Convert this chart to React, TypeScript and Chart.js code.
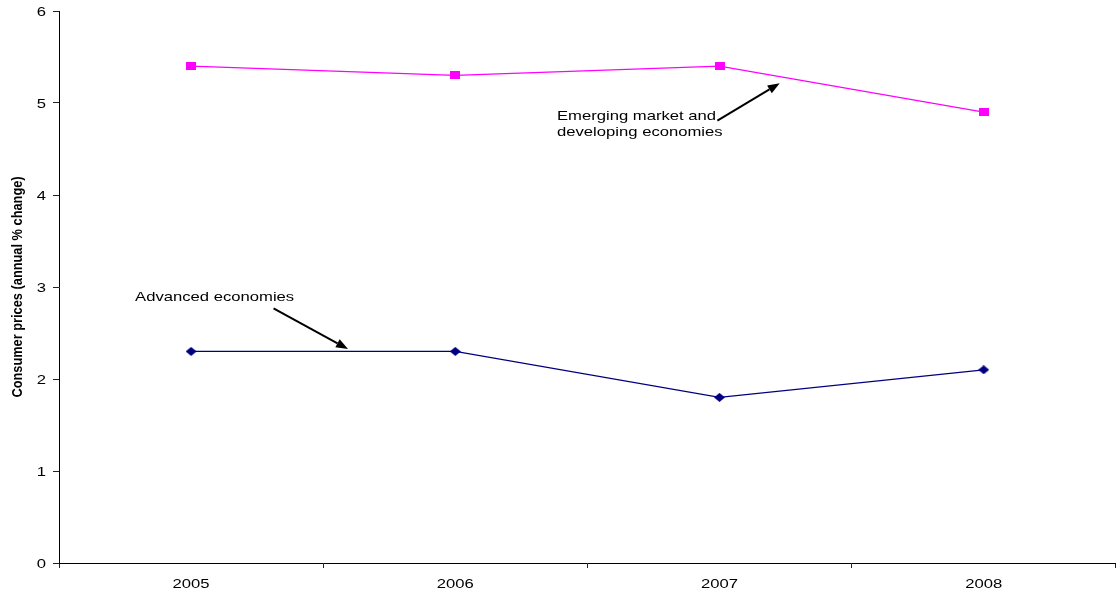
import React, { useEffect, useRef } from "react";
import { Chart, registerables } from "chart.js";

Chart.register(...registerables);

const years = ["2005", "2006", "2007", "2008"];
const emergingValues = [5.4, 5.3, 5.4, 4.9];
const advancedValues = [2.3, 2.3, 1.8, 2.1];
const yTicks = [0, 1, 2, 3, 4, 5, 6];
const yTitle = "Consumer prices (annual % change)";

// Callout labels: text baseline anchored at (category index, value), arrows from -> to
const emergingLabel = ["Emerging market and", "developing economies"];
const advancedLabel = ["Advanced economies"];
const emergingTextAt = [1.385, 4.81];
const emergingArrow = [[1.992, 4.808], [2.228, 5.214]];
const advancedTextAt = [-0.212, 2.848];
const advancedArrow = [[0.312, 2.768], [0.594, 2.326]];

const FONT = "'Liberation Sans', Arial, sans-serif";
const STRETCH = 1.28; // glyphs are drawn wider than they are tall

function stretchedText(
  ctx: CanvasRenderingContext2D,
  text: string,
  x: number,
  y: number,
  align: CanvasTextAlign,
  font: string
) {
  ctx.save();
  ctx.font = font;
  ctx.fillStyle = "#000";
  ctx.textAlign = align;
  ctx.textBaseline = "alphabetic";
  ctx.translate(x, y);
  ctx.scale(STRETCH, 1);
  ctx.fillText(text, 0, 0);
  ctx.restore();
}

function drawArrow(ctx: CanvasRenderingContext2D, x1: number, y1: number, x2: number, y2: number) {
  const ang = Math.atan2(y2 - y1, x2 - x1);
  const head = 12;
  const half = 4.5;
  const bx = x2 - head * Math.cos(ang);
  const by = y2 - head * Math.sin(ang);
  ctx.save();
  ctx.strokeStyle = "#000";
  ctx.fillStyle = "#000";
  ctx.lineWidth = 2;
  ctx.beginPath();
  ctx.moveTo(x1, y1);
  ctx.lineTo(bx, by);
  ctx.stroke();
  ctx.beginPath();
  ctx.moveTo(x2, y2);
  ctx.lineTo(bx + half * Math.sin(ang), by - half * Math.cos(ang));
  ctx.lineTo(bx - half * Math.sin(ang), by + half * Math.cos(ang));
  ctx.closePath();
  ctx.fill();
  ctx.restore();
}

function squareMarker(color: string) {
  const c = document.createElement("canvas");
  c.width = 10;
  c.height = 8;
  const g = c.getContext("2d")!;
  g.fillStyle = color;
  g.fillRect(0, 0, 10, 8);
  return c;
}

function diamondMarker(color: string) {
  const c = document.createElement("canvas");
  c.width = 11;
  c.height = 9;
  const g = c.getContext("2d")!;
  g.fillStyle = color;
  g.beginPath();
  g.moveTo(5.5, 0);
  g.lineTo(11, 4.5);
  g.lineTo(5.5, 9);
  g.lineTo(0, 4.5);
  g.closePath();
  g.fill();
  return c;
}

const textPlugin = {
  id: "axisTextAndCallouts",
  afterDraw(chart: any) {
    const { ctx, scales, chartArea } = chart;
    const xs = scales.x;
    const ys = scales.y;
    const px = (v: number) => xs.getPixelForValue(v);
    const py = (v: number) => ys.getPixelForValue(v);
    const font = `13px ${FONT}`;

    // y tick labels
    yTicks.forEach((v) => {
      stretchedText(ctx, String(v), chartArea.left - 13, py(v) + 5, "right", font);
    });
    // x tick labels
    years.forEach((label, i) => {
      stretchedText(ctx, label, px(i), chartArea.bottom + 25, "center", font);
    });

    // rotated y axis title
    ctx.save();
    ctx.font = `bold 12.8px ${FONT}`;
    ctx.fillStyle = "#000";
    ctx.textAlign = "center";
    ctx.textBaseline = "middle";
    ctx.translate(18, (chartArea.top + chartArea.bottom) / 2);
    ctx.rotate(-Math.PI / 2);
    ctx.scale(1, 1.12);
    ctx.fillText(yTitle, 0, 0);
    ctx.restore();

    // callouts
    emergingLabel.forEach((line, i) => {
      stretchedText(ctx, line, px(emergingTextAt[0]), py(emergingTextAt[1]) + i * 16, "left", font);
    });
    advancedLabel.forEach((line, i) => {
      stretchedText(ctx, line, px(advancedTextAt[0]), py(advancedTextAt[1]) + i * 16, "left", font);
    });
    drawArrow(ctx, px(emergingArrow[0][0]), py(emergingArrow[0][1]), px(emergingArrow[1][0]), py(emergingArrow[1][1]));
    drawArrow(ctx, px(advancedArrow[0][0]), py(advancedArrow[0][1]), px(advancedArrow[1][0]), py(advancedArrow[1][1]));
  },
};

export default function App() {
  const canvasRef = useRef<HTMLCanvasElement | null>(null);

  useEffect(() => {
    if (!canvasRef.current) return;
    const chart = new Chart(canvasRef.current, {
      type: "line",
      data: {
        labels: years,
        datasets: [
          {
            label: "Emerging market and developing economies",
            data: emergingValues,
            borderColor: "#FF00FF",
            backgroundColor: "#FF00FF",
            borderWidth: 1.2,
            pointStyle: squareMarker("#FF00FF") as any,
            tension: 0,
          },
          {
            label: "Advanced economies",
            data: advancedValues,
            borderColor: "#000080",
            backgroundColor: "#000080",
            borderWidth: 1.2,
            pointStyle: diamondMarker("#000080") as any,
            tension: 0,
          },
        ],
      },
      options: {
        animation: false,
        responsive: false,
        maintainAspectRatio: false,
        layout: { padding: { top: 11, right: 0, left: 0, bottom: 0 } },
        plugins: {
          legend: { display: false },
          tooltip: { enabled: false },
        },
        scales: {
          x: {
            type: "category",
            offset: true,
            grid: {
              offset: true,
              drawOnChartArea: false,
              drawTicks: true,
              tickLength: 5,
              color: "#222",
            },
            border: { color: "#000", width: 1 },
            ticks: { display: false },
            afterFit: (scale: any) => {
              scale.height = 31;
              scale.paddingLeft = 0;
              scale.paddingRight = 0;
            },
          },
          y: {
            min: 0,
            max: 6,
            afterBuildTicks: (scale: any) => {
              scale.ticks = yTicks.map((v) => ({ value: v }));
            },
            grid: {
              drawOnChartArea: false,
              drawTicks: true,
              tickLength: 6,
              color: "#222",
            },
            border: { color: "#000", width: 1 },
            ticks: { display: false },
            afterFit: (scale: any) => {
              scale.width = 59;
              scale.paddingTop = 0;
              scale.paddingBottom = 0;
            },
          },
        },
      },
      plugins: [textPlugin],
    });
    return () => chart.destroy();
  }, []);

  return (
    <div
      style={{
        position: "absolute",
        left: 0,
        top: 0,
        width: 1116,
        height: 594,
        overflow: "hidden",
        background: "#fff",
      }}
    >
      <canvas ref={canvasRef} width={1121} height={594} style={{ width: 1121, height: 594, display: "block" }} />
    </div>
  );
}
